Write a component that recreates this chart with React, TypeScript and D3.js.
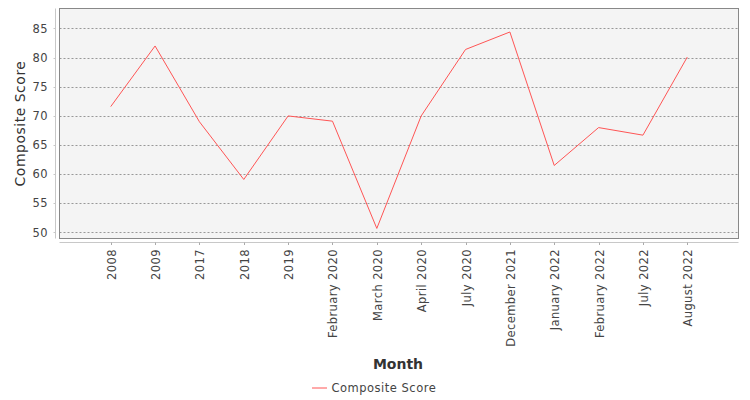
import React from "react";
import * as d3 from "d3";

const categories = [
  "2008", "2009", "2017", "2018", "2019", "February 2020", "March 2020",
  "April 2020", "July 2020", "December 2021", "January 2022", "February 2022",
  "July 2022", "August 2022",
];
const compositeScore = [71.6, 82.0, 69.0, 59.1, 70.0, 69.1, 50.7, 70.0, 81.4, 84.4, 61.5, 68.0, 66.7, 80.1];
const yTicks = [50, 55, 60, 65, 70, 75, 80, 85];

const W = 750;
const H = 400;
const plot = { left: 59.5, right: 738.5, top: 8.5, bottom: 238.5 };
const font = "'DejaVu Sans', sans-serif";
const textColor = "#444";

export default function App() {
  const x = d3.scalePoint<string>().domain(categories).range([plot.left, plot.right]).padding(1.155);
  const y = d3.scaleLinear().domain([48.97, 88.43]).range([plot.bottom, plot.top]);

  const line = d3
    .line<number>()
    .x((_, i) => x(categories[i]) ?? 0)
    .y((d) => y(d));

  const axisY = 242.5;
  const yAxisX = 55.5;

  return (
    <svg
      width={W}
      height={H}
      style={{ position: "absolute", left: 0, top: 0, display: "block", background: "#fff" }}
      fontFamily={font}
    >
      {/* plot background */}
      <rect
        x={plot.left}
        y={plot.top}
        width={plot.right - plot.left}
        height={plot.bottom - plot.top}
        fill="#f4f4f4"
      />
      {/* grid lines */}
      {yTicks.map((t) => (
        <line
          key={t}
          x1={plot.left}
          x2={plot.right}
          y1={Math.round(y(t)) + 0.5}
          y2={Math.round(y(t)) + 0.5}
          stroke="#707070"
          strokeWidth={0.7}
          strokeDasharray="2,2"
        />
      ))}
      <rect
        x={plot.left}
        y={plot.top}
        width={plot.right - plot.left}
        height={plot.bottom - plot.top}
        fill="none"
        stroke="#888"
        strokeWidth={1}
      />

      {/* y axis */}
      <line x1={yAxisX} x2={yAxisX} y1={plot.top} y2={plot.bottom} stroke="#c8c8c8" />
      {yTicks.map((t) => (
        <g key={t}>
          <line x1={yAxisX - 2} x2={yAxisX} y1={Math.round(y(t)) + 0.5} y2={Math.round(y(t)) + 0.5} stroke="#c8c8c8" />
          <text x={48} y={y(t)} dy="0.36em" textAnchor="end" fontSize={11.5} letterSpacing={0.4} fill={textColor}>
            {t}
          </text>
        </g>
      ))}
      <text
        transform={`translate(25, ${(plot.top + plot.bottom) / 2}) rotate(-90)`}
        textAnchor="middle"
        fontSize={14}
        letterSpacing={0.5}
        fill="#333"
      >
        Composite Score
      </text>

      {/* x axis */}
      <line x1={plot.left} x2={plot.right} y1={axisY} y2={axisY} stroke="#c8c8c8" />
      {categories.map((c) => {
        const cx = Math.round(x(c) ?? 0) + 0.5;
        return (
          <g key={c}>
            <line x1={cx} x2={cx} y1={axisY} y2={axisY + 2.5} stroke="#aaa" />
            <text
              transform={`translate(${cx}, ${axisY + 6.5}) rotate(-90)`}
              textAnchor="end"
              dy="0.36em"
              fontSize={11.5}
              letterSpacing={0.4}
              fill={textColor}
            >
              {c}
            </text>
          </g>
        );
      })}
      <text x={398} y={369} textAnchor="middle" fontSize={14} fontWeight="bold" fill="#333">
        Month
      </text>

      {/* series */}
      <path d={line(compositeScore) ?? ""} fill="none" stroke="#ff5555" strokeWidth={1} />

      {/* legend */}
      <line x1={312} x2={327} y1={388} y2={388} stroke="#ff5555" />
      <text x={331.5} y={388} dy="0.36em" fontSize={11.5} letterSpacing={0.5} fill={textColor}>
        Composite Score
      </text>
    </svg>
  );
}
